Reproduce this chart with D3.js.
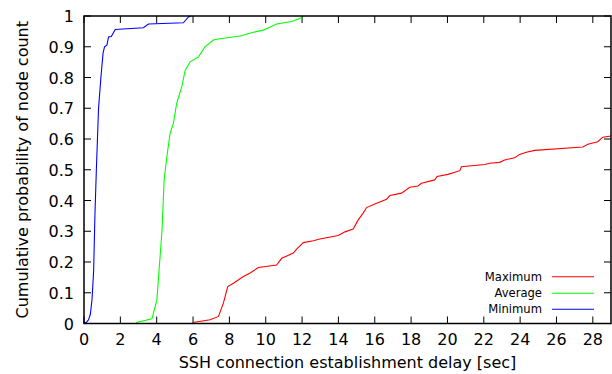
<!DOCTYPE html>
<html lang="en">
<head>
<meta charset="UTF-8">
<title>SSH delay CDF</title>
<script src="https://cdn.jsdelivr.net/npm/d3@7"></script>
<style>
	body { margin: 0; background: #fff; }
	text { font-family: "DejaVu Sans", sans-serif; fill: #000; }
</style>
</head>
<body>
<script>
// data: [delay sec, cumulative probability]
const minimumCdf = [[0,0],[0.15,0.005],[0.25,0.012],[0.35,0.03],[0.44,0.077],[0.53,0.17],[0.6,0.35],[0.68,0.5],[0.8,0.7],[0.93,0.8],[1.05,0.88],[1.13,0.9],[1.26,0.905],[1.35,0.932],[1.5,0.933],[1.72,0.956],[3.27,0.962],[3.55,0.974],[5.47,0.978],[5.75,0.997],[5.9,1]];
const averageCdf = [[2.87,0.003],[3.74,0.015],[4.01,0.077],[4.29,0.3],[4.41,0.467],[4.56,0.543],[4.74,0.619],[4.92,0.651],[5.1,0.716],[5.38,0.77],[5.57,0.824],[5.84,0.851],[6.3,0.867],[6.66,0.9],[7.12,0.922],[7.4,0.925],[8.59,0.935],[9.32,0.947],[9.87,0.954],[10.6,0.974],[11.43,0.982],[11.88,0.992],[12.07,1]];
const maximumCdf = [[5.99,0.003],[6.94,0.012],[7.4,0.023],[7.67,0.066],[7.91,0.12],[8.22,0.131],[8.77,0.153],[9.14,0.164],[9.59,0.182],[10.6,0.19],[10.88,0.212],[11.52,0.229],[11.7,0.242],[11.98,0.258],[12.07,0.263],[12.62,0.269],[12.98,0.275],[13.99,0.286],[14.36,0.298],[14.81,0.307],[15.09,0.337],[15.36,0.359],[15.55,0.377],[16.1,0.391],[16.65,0.404],[16.83,0.416],[17.47,0.424],[17.93,0.443],[18.38,0.447],[18.57,0.456],[19.3,0.467],[19.43,0.478],[20.03,0.485],[20.68,0.497],[20.77,0.51],[22.05,0.517],[22.32,0.521],[22.87,0.524],[23.15,0.532],[23.7,0.539],[23.97,0.55],[24.34,0.557],[24.8,0.563],[27.45,0.574],[27.73,0.583],[28.27,0.591],[28.55,0.606],[29,0.61]];

const seriesNames = ["Maximum", "Average", "Minimum"];
const seriesColors = ["#ff0000", "#00ff00", "#0000ff"];
const seriesData = [maximumCdf, averageCdf, minimumCdf];

const xTicks = d3.range(0, 29, 2);
const yTicks = [0, 0.1, 0.2, 0.3, 0.4, 0.5, 0.6, 0.7, 0.8, 0.9, 1];

const width = 612, height = 374;
const plotLeft = 84, plotRight = 611, plotTop = 16, plotBottom = 323.5;

const svg = d3.select("body").append("svg")
	.attr("width", width)
	.attr("height", height);

const x = d3.scaleLinear().domain([0, 29]).range([plotLeft, plotRight]);
const y = d3.scaleLinear().domain([0, 1]).range([plotBottom, plotTop]);

//tick marks, mirrored on all sides, pointing inward
const tickLen = 7;
const g = svg.append("g").attr("stroke", "#000").attr("stroke-width", 1);
xTicks.forEach(function(t) {
	g.append("line").attr("x1", x(t)).attr("x2", x(t)).attr("y1", plotBottom).attr("y2", plotBottom - tickLen);
	g.append("line").attr("x1", x(t)).attr("x2", x(t)).attr("y1", plotTop).attr("y2", plotTop + tickLen);
});
yTicks.forEach(function(t) {
	g.append("line").attr("x1", plotLeft).attr("x2", plotLeft + tickLen).attr("y1", y(t)).attr("y2", y(t));
	g.append("line").attr("x1", plotRight).attr("x2", plotRight - tickLen).attr("y1", y(t)).attr("y2", y(t));
});

//tick labels
svg.selectAll(".xlabel").data(xTicks).join("text")
	.attr("x", d => x(d))
	.attr("y", 345)
	.attr("text-anchor", "middle")
	.attr("font-size", 16)
	.text(d => d);

svg.selectAll(".ylabel").data(yTicks).join("text")
	.attr("x", 74)
	.attr("y", d => y(d) + 6)
	.attr("text-anchor", "end")
	.attr("font-size", 16)
	.text(d => d);

//axis titles
svg.append("text")
	.attr("x", (plotLeft + plotRight) / 2)
	.attr("y", 368)
	.attr("text-anchor", "middle")
	.attr("font-size", 16)
	.text("SSH connection establishment delay [sec]");

svg.append("text")
	.attr("transform", "translate(28," + ((plotTop + plotBottom) / 2) + ") rotate(-90)")
	.attr("text-anchor", "middle")
	.attr("font-size", 16)
	.text("Cumulative probability of node count");

//curves
const line = d3.line().x(d => x(d[0])).y(d => y(d[1]));
svg.append("clipPath").attr("id", "plotclip")
	.append("rect").attr("x", plotLeft).attr("y", plotTop - 2).attr("width", plotRight - plotLeft).attr("height", plotBottom - plotTop + 2);

seriesData.forEach(function(data, i) {
	svg.append("path")
		.datum(data)
		.attr("d", line)
		.attr("fill", "none")
		.attr("stroke", seriesColors[i])
		.attr("stroke-width", 1.1)
		.attr("clip-path", "url(#plotclip)");
});

//legend
const legendRows = [276.7, 293.3, 309.3];
seriesNames.forEach(function(name, i) {
	svg.append("text")
		.attr("x", 542)
		.attr("y", legendRows[i] + 4)
		.attr("text-anchor", "end")
		.attr("font-size", 11.6)
		.text(name);
	svg.append("line")
		.attr("x1", 552).attr("x2", 594)
		.attr("y1", legendRows[i]).attr("y2", legendRows[i])
		.attr("stroke", seriesColors[i])
		.attr("stroke-width", 1.1);
});

//frame
svg.append("rect")
	.attr("x", plotLeft).attr("y", plotTop)
	.attr("width", plotRight - plotLeft).attr("height", plotBottom - plotTop)
	.attr("fill", "none")
	.attr("stroke", "#000")
	.attr("stroke-width", 1.5);
</script>
</body>
</html>
